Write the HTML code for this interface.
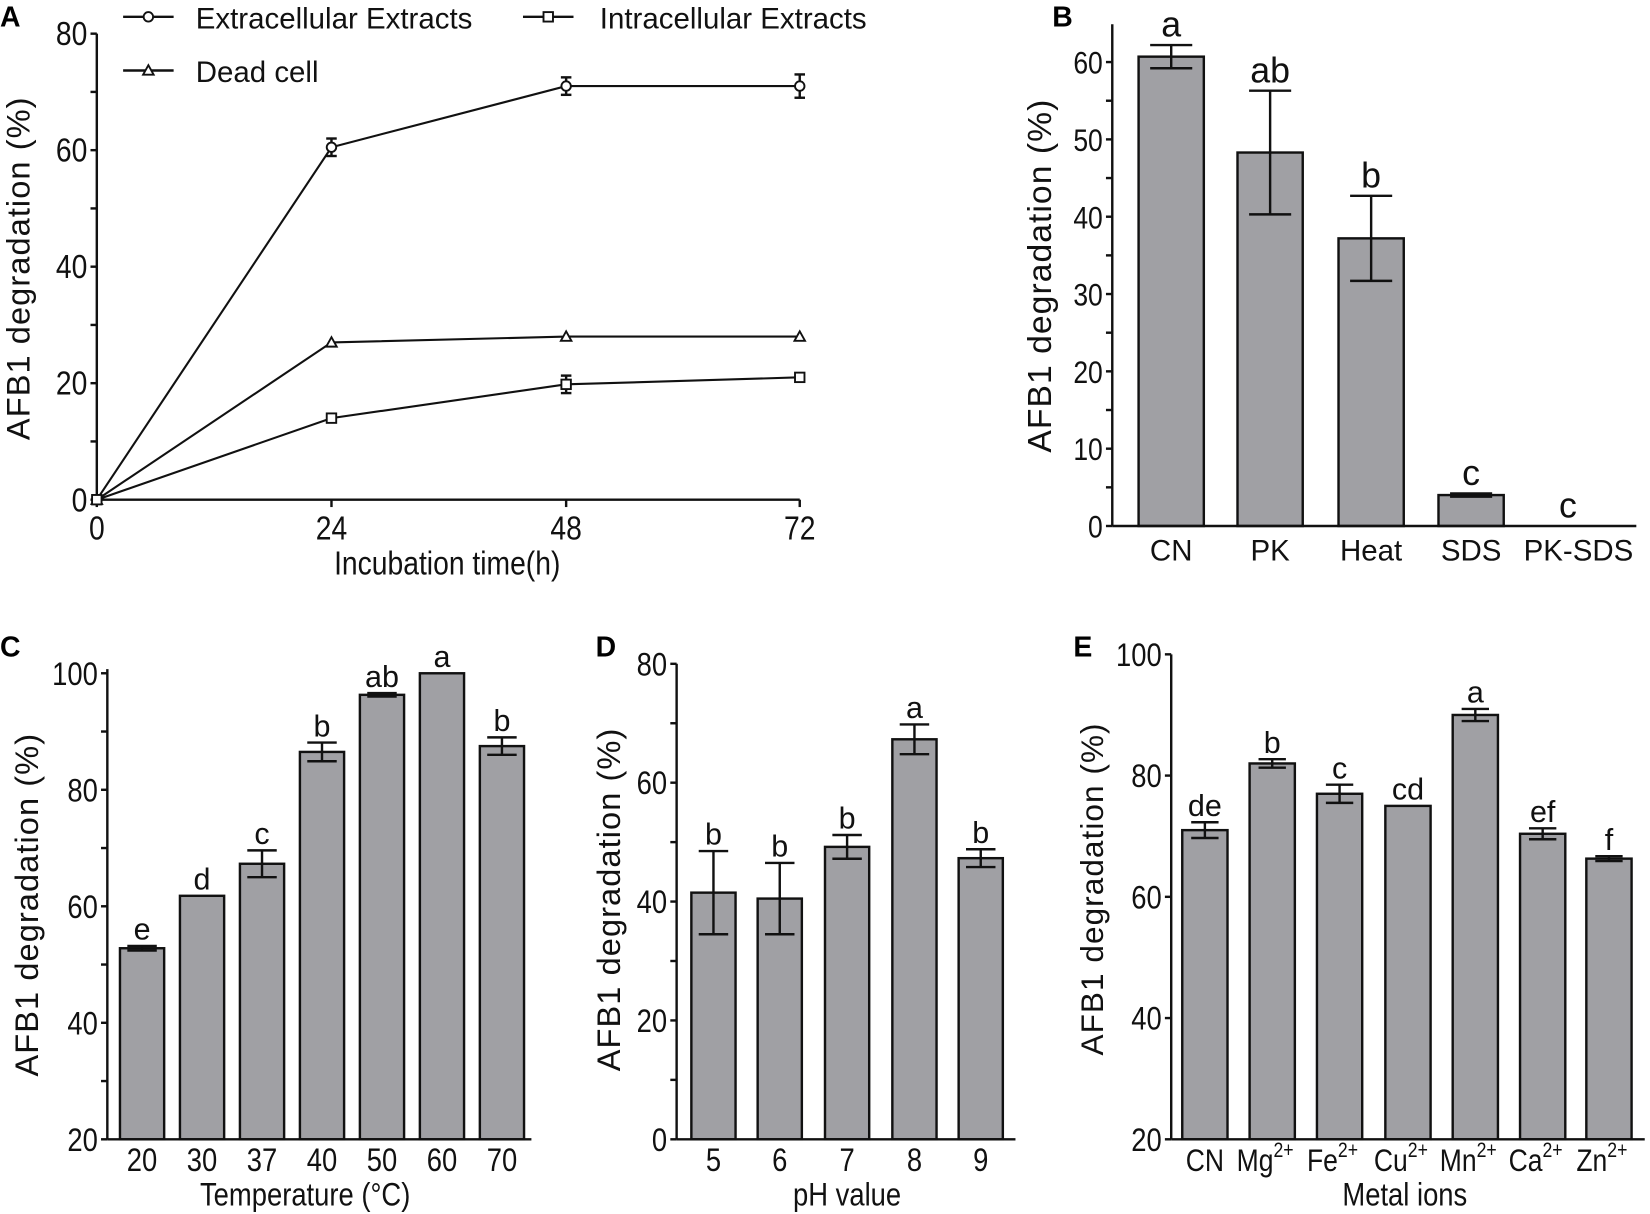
<!DOCTYPE html>
<html><head><meta charset="utf-8">
<style>html,body{margin:0;padding:0;background:#fff;}svg{display:block;}</style>
</head><body>
<svg id="s" width="1650" height="1214" viewBox="0 0 1568 1154" preserveAspectRatio="none" xmlns="http://www.w3.org/2000/svg" font-family="Liberation Sans, Arial, sans-serif"></svg>
<script>
var s=document.getElementById('s'),o='';
function L(x1,y1,x2,y2,w){o+='<line x1="'+x1+'" y1="'+y1+'" x2="'+x2+'" y2="'+y2+'" stroke="#111" stroke-width="'+(w||2.3)+'"/>';}
function T(x,y,t,sz,anc,extra){o+='<text x="'+x+'" y="'+y+'" font-size="'+sz+'" text-anchor="'+(anc||'middle')+'" fill="#111" '+(extra||'')+'>'+t+'</text>';}
function N(x,y,t,sz,anc){o+='<text x="'+x+'" y="'+y+'" font-size="'+sz+'" text-anchor="'+(anc||'middle')+'" fill="#111" transform="translate('+x+' 0) scale(0.84 1) translate('+(-x)+' 0)">'+t+'</text>';}
function YT(x,y,t,sz){o+='<text x="'+x+'" y="'+y+'" font-size="'+(sz||30)+'" text-anchor="middle" fill="#111" letter-spacing="1" transform="rotate(-90 '+x+' '+y+')">'+t+'</text>';}
function P(x,y,t){o+='<text x="'+x+'" y="'+y+'" font-size="27" font-weight="bold" fill="#000">'+t+'</text>';}
// Panel A
P(0,25,'A');
var ax=92,ay0=475,sy=(475-32)/80;function Ay(v){return ay0-v*sy;}
L(ax,32,ax,ay0);L(ax,ay0,760,ay0);
for(var v=0;v<=80;v+=10){L(ax-6,Ay(v),ax,Ay(v));if(v%20==0)N(ax-9,Ay(v)+11,v,32,'end');}
var xs=[92,315,538,760];
['0','24','48','72'].forEach(function(t,i){L(xs[i],ay0,xs[i],ay0+7);N(xs[i],ay0+38,t,32);});
N(425,546,'Incubation time(h)',32);
YT(28,255,'AFB1 degradation (%)',31);
var ser=[[0,60.5,71,71],[0,27,28,28],[0,14,19.8,21]];
var err=[[0,1.5,1.5,2],[0,0.3,0.3,0.3],[0,0.5,1.5,0.5]];
function mk(k,x,y){if(k==0)o+='<circle cx="'+x+'" cy="'+y+'" r="4.5" fill="#fff" stroke="#111" stroke-width="1.8"/>';
 else if(k==1)o+='<polygon points="'+x+','+(y-5)+' '+(x-5)+','+(y+4)+' '+(x+5)+','+(y+4)+'" fill="#fff" stroke="#111" stroke-width="1.8"/>';
 else o+='<rect x="'+(x-4.5)+'" y="'+(y-4.5)+'" width="9" height="9" fill="#fff" stroke="#111" stroke-width="1.8"/>';}
ser.forEach(function(d,k){var pts=d.map(function(v,i){return xs[i]+','+Ay(v);}).join(' ');
 o+='<polyline points="'+pts+'" fill="none" stroke="#111" stroke-width="2"/>';
 d.forEach(function(v,i){var e=err[k][i];if(e>0.4){L(xs[i],Ay(v+e),xs[i],Ay(v-e));L(xs[i]-5,Ay(v+e),xs[i]+5,Ay(v+e));L(xs[i]-5,Ay(v-e),xs[i]+5,Ay(v-e));}mk(k,xs[i],Ay(v));});});
L(117,16,165,16);mk(0,141,16);T(186,27,'Extracellular Extracts',28,'start');
L(497,16,545,16);mk(2,521,16);T(570,27,'Intracellular Extracts',28,'start');
L(117,67,165,67);mk(1,141,67);T(186,78,'Dead cell',28,'start');
function bars(cfg){
 var x0=cfg.x,y0=cfg.y0,yt=cfg.ytop,f=function(v){return y0-(v-cfg.min)*(y0-cfg.yMaxPix)/(cfg.max-cfg.min);};
 cfg.data.forEach(function(d){var c=d[0],v=d[1],e=d[2],w=cfg.w;
  if(v>cfg.min+0.01)o+='<rect x="'+(c-w/2)+'" y="'+f(v)+'" width="'+w+'" height="'+(y0-f(v))+'" fill="#a0a0a4" stroke="#111" stroke-width="2.3"/>';
  if(e>0){L(c,f(v+e),c,f(v-e));L(c-cfg.cap,f(v+e),c+cfg.cap,f(v+e));L(c-cfg.cap,f(v-e),c+cfg.cap,f(v-e));}
  T(c,f(v+e)-cfg.lgap,d[3],cfg.ls);});
 L(x0,yt,x0,y0);L(x0,y0,cfg.xend,y0);
 for(var v=cfg.min;v<=cfg.max+0.001;v+=cfg.minor){L(x0-6,f(v),x0,f(v));if(Math.round(v-cfg.min)%cfg.major==0)N(x0-9,f(v)+11,v,cfg.ts||31,'end');}
}
// Panel B
P(1000,25,'B');
bars({x:1057,y0:500,ytop:23,min:0,max:60,yMaxPix:59,minor:5,major:10,xend:1555,w:62,cap:20,lgap:8,ls:34,ts:30,
 data:[[1113,60.7,1.5,'a'],[1207,48.3,8,'ab'],[1303,37.2,5.5,'b'],[1398,4,0.2,'c'],[1490,0,0,'c']]});
['CN','PK','Heat','SDS','PK-SDS'].forEach(function(t,i){T([1113,1207,1303,1398,1500][i],533,t,28);});
YT(999,262,'AFB1 degradation (%)',32);
// Panel C
P(0,624,'C');
bars({x:102,y0:1083,ytop:636,min:20,max:100,yMaxPix:640,minor:10,major:20,xend:505,w:42,cap:14,lgap:6,ls:29,
 data:[[135,52.8,0.4,'e'],[192,61.8,0,'d'],[249,67.3,2.3,'c'],[306,86.5,1.6,'b'],[363,96.3,0.3,'ab'],[420,100,0,'a'],[477,87.5,1.5,'b']]});
['20','30','37','40','50','60','70'].forEach(function(t,i){N(135+57*i,1113,t,31);});
N(290,1146,'Temperature (°C)',31);
YT(36,860,'AFB1 degradation (%)',31);
// Panel D
P(566,624,'D');
bars({x:643,y0:1083,ytop:631,min:0,max:80,yMaxPix:631,minor:10,major:20,xend:965,w:42,cap:14,lgap:6,ls:29,
 data:[[678,41.5,7,'b'],[741,40.5,6,'b'],[805,49.2,2,'b'],[869,67.3,2.5,'a'],[932,47.3,1.5,'b']]});
['5','6','7','8','9'].forEach(function(t,i){N([678,741,805,869,932][i],1113,t,31);});
N(805,1146,'pH value',31);
YT(589,855,'AFB1 degradation (%)',31);
// Panel E
P(1020,624,'E');
var ex=[1145,1209,1273,1338,1402,1466,1529];
bars({x:1113,y0:1083,ytop:622,min:20,max:100,yMaxPix:622,minor:20,major:20,xend:1563,w:43,cap:13,lgap:6,ls:29,
 data:[[ex[0],71,1.3,'de'],[ex[1],82,0.7,'b'],[ex[2],77,1.5,'c'],[ex[3],75,0,'cd'],[ex[4],90,1,'a'],[ex[5],70.4,0.9,'ef'],[ex[6],66.3,0.4,'f']]});
var el=['CN','Mg','Fe','Cu','Mn','Ca','Zn'];
el.forEach(function(t,i){if(i==0)N(ex[i],1113,t,30);else o+='<text x="'+(ex[i]-8)+'" y="1113" font-size="30" text-anchor="middle" fill="#111" transform="translate('+ex[i]+' 0) scale(0.84 1) translate('+(-ex[i])+' 0)">'+t+'<tspan font-size="20" dy="-13">2+</tspan></text>';});
N(1335,1146,'Metal ions',31);
YT(1048,845,'AFB1 degradation (%)',30);
s.innerHTML=o;
</script>
</body></html>
